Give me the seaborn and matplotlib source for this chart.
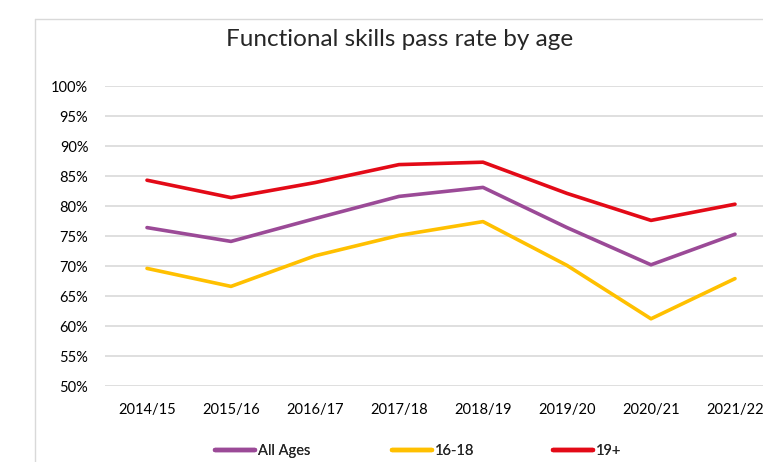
import numpy as np
import pandas as pd
import seaborn as sns
import matplotlib.pyplot as plt
from matplotlib.ticker import PercentFormatter

years = ["2014/15", "2015/16", "2016/17", "2017/18", "2018/19", "2019/20", "2020/21", "2021/22"]
all_ages = [76.4, 74.1, 77.9, 81.6, 83.1, 76.4, 70.2, 75.3]
age_16_18 = [69.6, 66.6, 71.7, 75.1, 77.4, 70.1, 61.2, 67.9]
age_19_plus = [84.3, 81.4, 83.9, 86.9, 87.3, 82.1, 77.6, 80.3]

series_names = ["All Ages", "16-18", "19+"]
colors = ["#9B4A97", "#FFC000", "#E30A17"]

df = pd.DataFrame({
    "year": years * 3,
    "pos": list(range(len(years))) * 3,
    "rate": all_ages + age_16_18 + age_19_plus,
    "group": [s for s in series_names for _ in years],
})

sns.set_style("white")
plt.rcParams['font.family'] = ['Lato', 'DejaVu Sans']

W, H = 763, 462
fig = plt.figure(figsize=(W / 100, H / 100), dpi=100)
ax = fig.add_axes([105 / W, (H - 386) / H, 1 - 105 / W, (386 - 86) / H])

sns.lineplot(data=df, x="pos", y="rate", hue="group", palette=colors,
             hue_order=series_names, linewidth=2.6, ax=ax, legend=False)

ax.set_ylim(50, 100)
ax.set_yticks(np.arange(50, 101, 5))
ax.yaxis.set_major_formatter(PercentFormatter(decimals=0))
ax.set_xlim(-(147 - 105) / 84, (W - 147) / 84)
ax.set_xticks(range(len(years)))
ax.set_xticklabels(years)
ax.set_xlabel("")
ax.set_ylabel("")
ax.grid(axis="y", color="#D9D9D9", linewidth=1.2)
ax.set_axisbelow(True)
for s in ax.spines.values():
    s.set_visible(False)
ax.tick_params(axis="both", length=0, labelsize=10.5, colors="#000000")
ax.tick_params(axis="x", pad=12)
ax.tick_params(axis="y", pad=12)

fig.text(400 / W, 1 - 40 / H, "Functional skills pass rate by age",
         ha="center", va="center", fontsize=17.5)

# chart border (top and left visible)
fig.add_artist(plt.Line2D([35 / W, 1], [1 - 19 / H] * 2, color="#D9D9D9", lw=1))
fig.add_artist(plt.Line2D([35 / W] * 2, [0, 1 - 19 / H], color="#D9D9D9", lw=1))

# legend entries placed one by one, like the original
legend_x = [215, 392, 553]
for name, c, lx in zip(series_names, colors, legend_x):
    h = plt.Line2D([], [], color=c, lw=3.2, solid_capstyle="round")
    lg = fig.legend([h], [name], loc="center left", bbox_to_anchor=(lx / W, 1 - 451 / H),
                    frameon=False, fontsize=10.5, handlelength=2.75, handletextpad=0.2,
                    borderpad=0, borderaxespad=0)
    fig.add_artist(lg)

fig.savefig("out.png", dpi=100)
